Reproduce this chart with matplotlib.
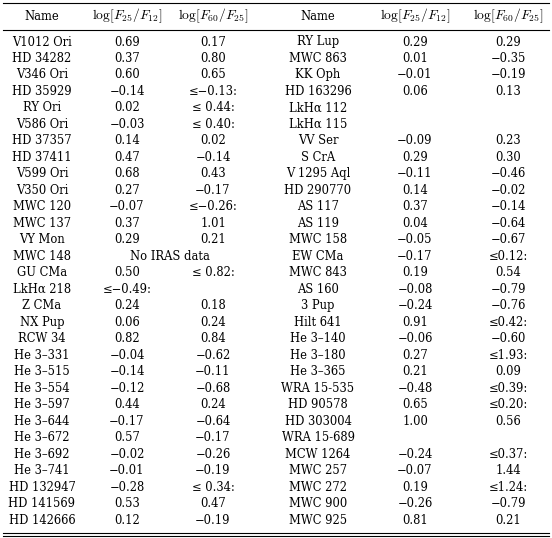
import matplotlib
matplotlib.use("Agg")
import matplotlib.pyplot as plt

headers = ["Name", r"$\log[F_{25}/F_{12}]$", r"$\log[F_{60}/F_{25}]$", "Name", r"$\log[F_{25}/F_{12}]$", r"$\log[F_{60}/F_{25}]$"]
left_names = ["V1012 Ori","HD 34282","V346 Ori","HD 35929","RY Ori","V586 Ori","HD 37357","HD 37411","V599 Ori","V350 Ori","MWC 120","MWC 137","VY Mon","MWC 148","GU CMa","LkHα 218","Z CMa","NX Pup","RCW 34","He 3–331","He 3–515","He 3–554","He 3–597","He 3–644","He 3–672","He 3–692","He 3–741","HD 132947","HD 141569","HD 142666"]
left_c1 = ["0.69","0.37","0.60","−0.14","0.02","−0.03","0.14","0.47","0.68","0.27","−0.07","0.37","0.29","","0.50","≤−0.49:","0.24","0.06","0.82","−0.04","−0.14","−0.12","0.44","−0.17","0.57","−0.02","−0.01","−0.28","0.53","0.12"]
left_c2 = ["0.17","0.80","0.65","≤−0.13:","≤ 0.44:","≤ 0.40:","0.02","−0.14","0.43","−0.17","≤−0.26:","1.01","0.21","","≤ 0.82:","","0.18","0.24","0.84","−0.62","−0.11","−0.68","0.24","−0.64","−0.17","−0.26","−0.19","≤ 0.34:","0.47","−0.19"]
right_names = ["RY Lup","MWC 863","KK Oph","HD 163296","LkHα 112","LkHα 115","VV Ser","S CrA","V 1295 Aql","HD 290770","AS 117","AS 119","MWC 158","EW CMa","MWC 843","AS 160","3 Pup","Hilt 641","He 3–140","He 3–180","He 3–365","WRA 15-535","HD 90578","HD 303004","WRA 15-689","MCW 1264","MWC 257","MWC 272","MWC 900","MWC 925"]
right_c1 = ["0.29","0.01","−0.01","0.06","","","−0.09","0.29","−0.11","0.14","0.37","0.04","−0.05","−0.17","0.19","−0.08","−0.24","0.91","−0.06","0.27","0.21","−0.48","0.65","1.00","","−0.24","−0.07","0.19","−0.26","0.81"]
right_c2 = ["0.29","−0.35","−0.19","0.13","","","0.23","0.30","−0.46","−0.02","−0.14","−0.64","−0.67","≤0.12:","0.54","−0.79","−0.76","≤0.42:","−0.60","≤1.93:","0.09","≤0.39:","≤0.20:","0.56","","≤0.37:","1.44","≤1.24:","−0.79","0.21"]
span_row = 13
span_text = "No IRAS data"

W, H = 552, 538
fig = plt.figure(figsize=(W/100, H/100), dpi=100)
ax = fig.add_axes([0, 0, 1, 1])
ax.set_xlim(0, W); ax.set_ylim(H, 0); ax.axis("off")
plt.rcParams['mathtext.fontset'] = 'cm'
fs = 8.3
fam = "DejaVu Serif"
xs = [42, 127, 213, 318, 415, 508]
for x, h in zip(xs, headers):
    ax.text(x, 16, h, ha="center", va="center", fontsize=fs if h == "Name" else 9.8, family=fam)
for y in (3, 30, 533):
    ax.plot([3, 549], [y, y], color="black", lw=0.8)
ax.plot([3, 549], [535.5, 535.5], color="black", lw=0.8)
y0, dy = 42, (520 - 42) / 29
cols = [left_names, left_c1, left_c2, right_names, right_c1, right_c2]
for i in range(len(left_names)):
    y = y0 + i * dy
    for j, col in enumerate(cols):
        if col[i]:
            ax.text(xs[j], y, col[i], ha="center", va="center", fontsize=fs, family=fam)
    if i == span_row:
        ax.text((xs[1] + xs[2]) / 2, y, span_text, ha="center", va="center", fontsize=fs, family=fam)
fig.savefig("out.png", dpi=100)
